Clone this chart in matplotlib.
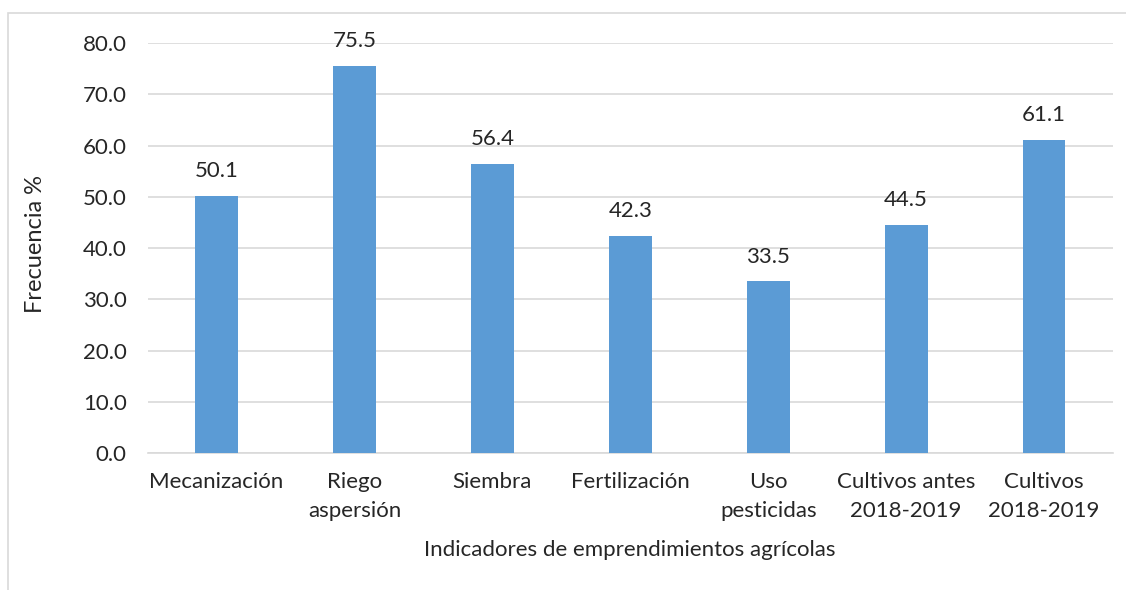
import matplotlib.pyplot as plt
from matplotlib.patches import Rectangle

categorias = ['Mecanización', 'Riego\naspersión', 'Siembra', 'Fertilización',
              'Uso\npesticidas', 'Cultivos antes\n2018-2019', 'Cultivos\n2018-2019']
frecuencia = [50.1, 75.5, 56.4, 42.3, 33.5, 44.5, 61.1]
y_ticks = [0, 10, 20, 30, 40, 50, 60, 70, 80]

plt.rcParams['font.family'] = ['Lato', 'DejaVu Sans']
FS = 16
TXT = '#262626'

fig = plt.figure(figsize=(11.26, 5.9), dpi=100)
ax = fig.add_axes([0.131, 0.2322, 0.8575, 0.6949])

# chart border (cut off on right/bottom like the source)
fig.patches.append(Rectangle((8 / 1126, -0.1), 1.2, 1 - 13 / 590 + 0.1,
                             transform=fig.transFigure, fill=False,
                             edgecolor='#d9d9d9', linewidth=1.2))

x = range(len(categorias))
bars = ax.bar(x, frecuencia, width=0.31, color='#5b9bd5', zorder=3)

for b, v in zip(bars, frecuencia):
    ax.annotate(f'{v:.1f}', (b.get_x() + b.get_width() / 2, v),
                xytext=(0, 13.5), textcoords='offset points',
                ha='center', va='baseline', fontsize=FS, color=TXT)

ax.set_xlim(-0.5, len(categorias) - 0.5)
ax.set_ylim(0, 80)
ax.set_yticks(y_ticks)
ax.set_yticklabels([f'{t:.1f}' for t in y_ticks])
ax.set_xticks(list(x))
ax.set_xticklabels(categorias, linespacing=1.55)
ax.tick_params(axis='both', length=0, labelsize=FS, labelcolor=TXT)
ax.tick_params(axis='y', pad=15)
ax.tick_params(axis='x', pad=14)

ax.grid(axis='y', color='#d9d9d9', linewidth=1.2, zorder=0)
for s in ['top', 'right', 'left']:
    ax.spines[s].set_visible(False)
ax.spines['bottom'].set_color('#d9d9d9')
ax.spines['bottom'].set_linewidth(1.2)

fig.text(35 / 1126, 1 - 244 / 590, 'Frecuencia %', rotation=90, ha='center',
         va='center', fontsize=17, color=TXT)
fig.text(630 / 1126, 1 - 550 / 590, 'Indicadores de emprendimientos agrícolas',
         ha='center', va='center', fontsize=FS, color=TXT)

fig.savefig('out.png', dpi=100)
